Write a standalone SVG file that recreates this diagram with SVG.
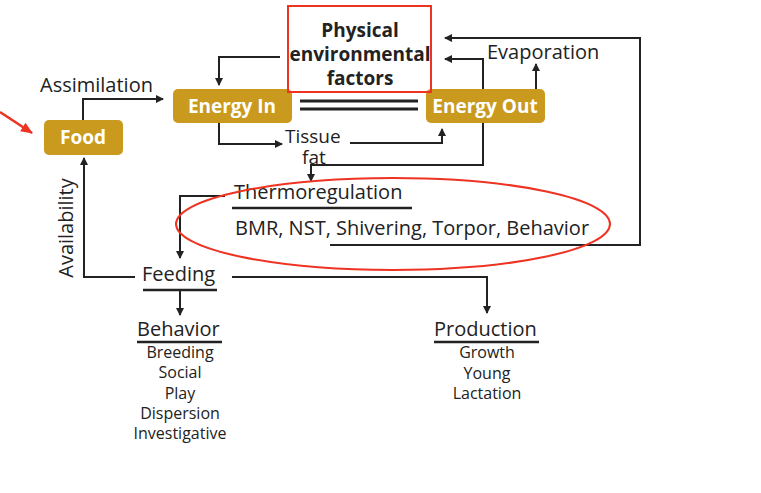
<svg xmlns="http://www.w3.org/2000/svg" width="761" height="493" viewBox="0 0 761 493">
<defs>
<marker id="ah" markerWidth="8" markerHeight="8" refX="7" refY="4" orient="auto" markerUnits="userSpaceOnUse"><path d="M0,0 L8,4 L0,8 z" fill="#222"/></marker>
<marker id="rh" markerWidth="12" markerHeight="12" refX="11" refY="6" orient="auto" markerUnits="userSpaceOnUse"><path d="M0,1 L12,6 L0,11 z" fill="#e32"/></marker>
</defs>
<style>
text{font-family:"Open Sans","Liberation Sans",sans-serif;fill:#222}
.t{font-size:20px}
.tf{font-size:19px}
.s{font-size:16px;text-anchor:middle}
.b{fill:#c99a1e}
.bt{font-size:19px;font-weight:bold;fill:#fff;text-anchor:middle}
.c{fill:none;stroke:#222;stroke-width:2}
.u{stroke:#222;stroke-width:2.5}
</style>
<rect width="761" height="493" fill="#fff"/>
<g id="connectors">
<path class="c" d="M83,120 V99 H163" marker-end="url(#ah)"/>
<path class="c" d="M280,57 H219 V85" marker-end="url(#ah)"/>
<path class="c" d="M219,123 V144 H282" marker-end="url(#ah)"/>
<path class="c" d="M350,143 H442 V129" marker-end="url(#ah)"/>
<path class="c" d="M483,123 V165 H311 V181" marker-end="url(#ah)"/>
<path class="c" d="M483,89 V59 H445" marker-end="url(#ah)"/>
<path class="c" d="M536,89 V64" marker-end="url(#ah)"/>
<path class="c" d="M330,245 H640 V38 H445" marker-end="url(#ah)"/>
<path class="c" d="M225,196 H180 V258" marker-end="url(#ah)"/>
<path class="c" d="M135,277 H84 V158" marker-end="url(#ah)"/>
<path class="c" d="M232,277 H487 V313" marker-end="url(#ah)"/>
<path class="c" d="M180,290 V315" marker-end="url(#ah)"/>
<line x1="300" y1="101" x2="418" y2="101" stroke="#222" stroke-width="3"/>
<line x1="300" y1="109" x2="418" y2="109" stroke="#222" stroke-width="3"/>
</g>
<g id="food"><rect class="b" x="44" y="120" width="79" height="35" rx="5"/><text class="bt" x="83" y="144">Food</text></g>
<g id="energy-in"><rect class="b" x="173" y="89" width="119" height="34" rx="5"/><text class="bt" x="232" y="113">Energy In</text></g>
<g id="energy-out"><rect class="b" x="426" y="89" width="119" height="34" rx="5"/><text class="bt" x="485" y="113">Energy Out</text></g>
<g id="physical">
<text style="font-size:19px;font-weight:bold;text-anchor:middle"><tspan x="360" y="37">Physical</tspan><tspan x="360" y="61">environmental</tspan><tspan x="360" y="85">factors</tspan></text>
<rect x="288" y="6" width="143" height="86" fill="none" stroke="#e32" stroke-width="2"/>
</g>
<g id="labels">
<text class="t" x="40" y="92">Assimilation</text>
<text class="t" x="487" y="59">Evaporation</text>
<text class="tf" x="285" y="143">Tissue</text>
<text class="tf" x="302" y="164">fat</text>
<text class="t" transform="translate(73,228) rotate(-90)" text-anchor="middle">Availability</text>
</g>
<g id="thermoregulation">
<text class="t" x="234" y="199">Thermoregulation</text>
<line class="u" x1="232" y1="208" x2="412" y2="208"/>
<text class="t" x="235" y="235">BMR, NST, Shivering, Torpor, Behavior</text>
</g>
<g id="feeding"><text class="t" x="142" y="281">Feeding</text><line class="u" x1="143" y1="290" x2="217" y2="290"/></g>
<g id="behavior">
<text class="t" x="137" y="336">Behavior</text><line class="u" x1="137" y1="342" x2="222" y2="342"/>
<text class="s" x="180" y="358">Breeding</text><text class="s" x="180" y="378">Social</text><text class="s" x="180" y="399">Play</text><text class="s" x="180" y="419">Dispersion</text><text class="s" x="180" y="439">Investigative</text>
</g>
<g id="production">
<text class="t" x="434" y="336">Production</text><line class="u" x1="434" y1="342" x2="539" y2="342"/>
<text class="s" x="487" y="358">Growth</text><text class="s" x="487" y="379">Young</text><text class="s" x="487" y="399">Lactation</text>
</g>
<g id="annotations">
<ellipse cx="393" cy="224" rx="217" ry="46" fill="none" stroke="#e32" stroke-width="2"/>
<line x1="0" y1="112" x2="32" y2="133" stroke="#e32" stroke-width="2.5" marker-end="url(#rh)"/>
</g>
</svg>
